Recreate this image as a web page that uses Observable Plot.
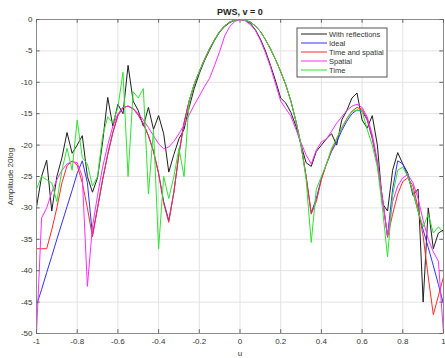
<!DOCTYPE html>
<html>
<head>
<meta charset="utf-8">
<script src="https://cdn.jsdelivr.net/npm/d3@7"></script>
<script src="https://cdn.jsdelivr.net/npm/@observablehq/plot@0.6"></script>
<style>
  html, body { margin: 0; padding: 0; background: #fff; }
</style>
</head>
<body>
<div id="chart"></div>
<script>
// ---- data ----
const title = "PWS, v = 0";
const xLabel = "u";
const yLabel = "Amplitude 20log";
const xTicks = [-1, -0.8, -0.6, -0.4, -0.2, 0, 0.2, 0.4, 0.6, 0.8, 1];
const yTicks = [0, -5, -10, -15, -20, -25, -30, -35, -40, -45, -50];
const seriesNames = ["With reflections", "Ideal", "Time and spatial", "Spatial", "Time"];
const seriesColors = ["#1e1e1e", "#3030ff", "#ff2a2a", "#ff2cff", "#2ee42e"];

const u = [-1,-0.975,-0.95,-0.925,-0.9,-0.875,-0.85,-0.825,-0.8,-0.775,
  -0.75,-0.725,-0.7,-0.675,-0.65,-0.625,-0.6,-0.575,-0.55,-0.525,
  -0.5,-0.475,-0.45,-0.425,-0.4,-0.375,-0.35,-0.325,-0.3,-0.275,
  -0.25,-0.225,-0.2,-0.175,-0.15,-0.125,-0.1,-0.075,-0.05,-0.025,
  0,
  0.025,0.05,0.075,0.1,0.125,0.15,0.175,0.2,0.225,0.25,
  0.275,0.3,0.325,0.35,0.375,0.4,0.425,0.45,0.475,0.5,
  0.525,0.55,0.575,0.6,0.625,0.65,0.675,0.7,0.725,0.75,
  0.775,0.8,0.825,0.85,0.875,0.9,0.925,0.95,0.975,1];

const withReflections = [-29.9,-25,-22.4,-30.5,-25,-22,-18,-21.3,-20,-18.5,
  -25,-27.5,-25.2,-19.5,-12.4,-17,-13.5,-15,-7.3,-13,
  -14.5,-17,-14,-17.5,-15.3,-18.2,-24.3,-21.5,-19,-17.5,
  -14,-11,-8.6,-6.6,-4.9,-3.3,-2,-1.1,-0.5,-0.1,
  0,
  -0.1,-0.6,-1.6,-3.1,-5,-7.3,-9.8,-12.5,-13.3,-14.8,
  -17,-20,-22.8,-23.4,-21,-20,-19,-18.2,-20,-16,
  -14.5,-12.5,-11.7,-16,-17.3,-15.3,-20,-29.3,-30.5,-24,
  -21.2,-23,-24.5,-28,-27,-45,-30,-36.5,-34,-33.5];

const ideal = [-45.5,-43,-40.3,-37.7,-35,-32.4,-29.8,-27.2,-24.5,-22.5,
  -26,-34.3,-30,-25.5,-21.5,-18,-15.3,-14,-13.8,-14.2,
  -15.2,-16.6,-18.5,-21,-24.5,-29,-32,-27.5,-21.5,-16.5,
  -13,-10.3,-8.3,-6.4,-4.7,-3.2,-1.9,-1,-0.4,-0.1,
  0,
  -0.1,-0.4,-1,-1.9,-3.2,-4.7,-6.4,-8.3,-10.4,-13,
  -16.2,-20,-25,-30.8,-28.5,-25.3,-23,-21,-19.5,-17.7,
  -16.2,-15,-14.4,-14.6,-16,-19,-23,-28.5,-34.5,-27,
  -22.5,-23,-25,-27.5,-30.5,-33.5,-36.3,-39.2,-42.2,-45.3];

const timeAndSpatial = [-36.5,-36.5,-36.5,-33.5,-30,-26,-23.3,-22.5,-23.2,-26,
  -30,-34.6,-30,-25.5,-21.5,-18,-15.3,-14,-13.8,-14.2,
  -15.2,-16.6,-18.5,-21,-24.5,-29.3,-32.3,-27.5,-21.3,-16.4,
  -13,-10.3,-8.3,-6.4,-4.7,-3.2,-1.9,-1,-0.4,-0.1,
  0,
  -0.1,-0.4,-1,-1.9,-3.2,-4.7,-6.4,-8.3,-10.4,-13,
  -16.2,-20,-25,-31,-29,-25.5,-23,-20.8,-19,-17.3,
  -15.8,-14.6,-14,-14.3,-15.8,-18.7,-22.8,-28.5,-34.7,-31,
  -27.8,-25.8,-25.2,-26.5,-30,-34.5,-41,-47,-44,-41];

const spatial = [-50,-31.6,-30,-27.5,-25.5,-24,-23,-22.6,-22.8,-25,
  -42.5,-33,-28,-23.5,-20,-17,-15,-14,-13.8,-14.2,
  -15,-16,-17.2,-18.5,-19.8,-20.6,-20.3,-19.4,-18.2,-16.8,
  -15.2,-13.6,-12.2,-10.7,-9.4,-7.3,-5.1,-2.6,-1.1,-0.3,
  0,
  -0.2,-0.8,-1.7,-3.3,-5.3,-7.6,-10.3,-13,-14.2,-15.4,
  -17.5,-19.6,-21.6,-23,-20.8,-19.5,-19,-17.8,-16.5,-15.5,
  -14.5,-13.8,-13.5,-14,-15.5,-18.3,-22.5,-28.5,-34.5,-29,
  -26.5,-25.2,-24.7,-26,-28.5,-32,-35,-37,-38.5,-50];

const time = [-27,-25,-25.5,-26,-29,-24,-20.5,-24,-16,-22,
  -23,-26.5,-25,-18.5,-15.5,-16.5,-14,-8.4,-25,-11.5,
  -12.5,-11,-27.8,-17.5,-36.5,-25,-28.5,-25,-20.5,-25,
  -13,-10.3,-8.3,-6.4,-4.7,-3.2,-1.9,-1,-0.4,-0.1,
  0,
  -0.1,-0.4,-1,-1.9,-3.2,-4.7,-6.4,-8.3,-10.4,-13,
  -16.2,-20,-25.5,-35.5,-27,-25,-23,-20.5,-19,-17.2,
  -15.8,-14.6,-14.5,-14.6,-17.5,-20,-23.5,-30,-37.8,-28,
  -24,-23.5,-25,-27.5,-30.5,-33,-31,-34,-33,-34];

const seriesValues = [withReflections, ideal, timeAndSpatial, spatial, time];

// ---- tidy table ----
const rows = [];
seriesNames.forEach((name, k) => {
  seriesValues[k].forEach((v, i) => rows.push({u: u[i], db: v, s: name}));
});

const font = "'Liberation Sans', Arial, Helvetica, sans-serif";

const chart = Plot.plot({
  width: 445,
  height: 358,
  marginLeft: 36,
  marginRight: 2,
  marginTop: 19,
  marginBottom: 25,
  style: {fontFamily: font, fontSize: "8px", background: "#fff", color: "#333"},
  x: {domain: [-1, 1]},
  y: {domain: [-50, 0]},
  color: {domain: seriesNames, range: seriesColors},
  marks: [
    Plot.gridX(xTicks, {stroke: "#e3e3e3", strokeOpacity: 1}),
    Plot.gridY(yTicks, {stroke: "#e3e3e3", strokeOpacity: 1}),
    Plot.line(rows, {x: "u", y: "db", z: "s", stroke: "s", strokeWidth: 1, clip: true}),
    Plot.frame({stroke: "#8c8c8c"}),
    // inward tick marks on all four sides
    Plot.ruleX(xTicks, {y1: -50, y2: -49.4, stroke: "#666"}),
    Plot.ruleX(xTicks, {y1: 0, y2: -0.6, stroke: "#666"}),
    Plot.ruleY(yTicks, {x1: -1, x2: -0.982, stroke: "#666"}),
    Plot.ruleY(yTicks, {x1: 1, x2: 0.982, stroke: "#666"}),
    Plot.axisX(xTicks, {tickSize: 0, tickPadding: 5, tickFormat: d => String(d),
      label: xLabel, labelAnchor: "center", labelOffset: 22, labelArrow: "none", fill: "#333"}),
    Plot.axisY(yTicks, {tickSize: 0, tickPadding: 4, tickFormat: d => String(d),
      label: yLabel, labelAnchor: "center", labelOffset: 29, labelArrow: "none", fill: "#333"}),
    Plot.text([title], {frameAnchor: "top", dy: -11, fontWeight: "bold", fontSize: 9, fill: "#222"})
  ]
});

document.getElementById("chart").appendChild(chart);

// ---- legend (drawn onto the same svg) ----
const svg = d3.select(chart);
const lg = svg.append("g").attr("font-family", font).attr("font-size", 7.5)
  .attr("text-anchor", "start");
const bx = 297, by = 28, bw = 90, bh = 49, rowH = 9;
lg.append("rect").attr("x", bx).attr("y", by).attr("width", bw).attr("height", bh)
  .attr("fill", "#fff").attr("stroke", "#555").attr("stroke-width", 1);
seriesNames.forEach((name, i) => {
  const yy = by + 6 + i * rowH;
  lg.append("line").attr("x1", bx + 4).attr("x2", bx + 30).attr("y1", yy).attr("y2", yy)
    .attr("stroke", seriesColors[i]).attr("stroke-width", 1);
  lg.append("text").attr("x", bx + 32).attr("y", yy).attr("dy", "0.35em")
    .attr("text-anchor", "start").attr("fill", "#333").text(name);
});
</script>
</body>
</html>
